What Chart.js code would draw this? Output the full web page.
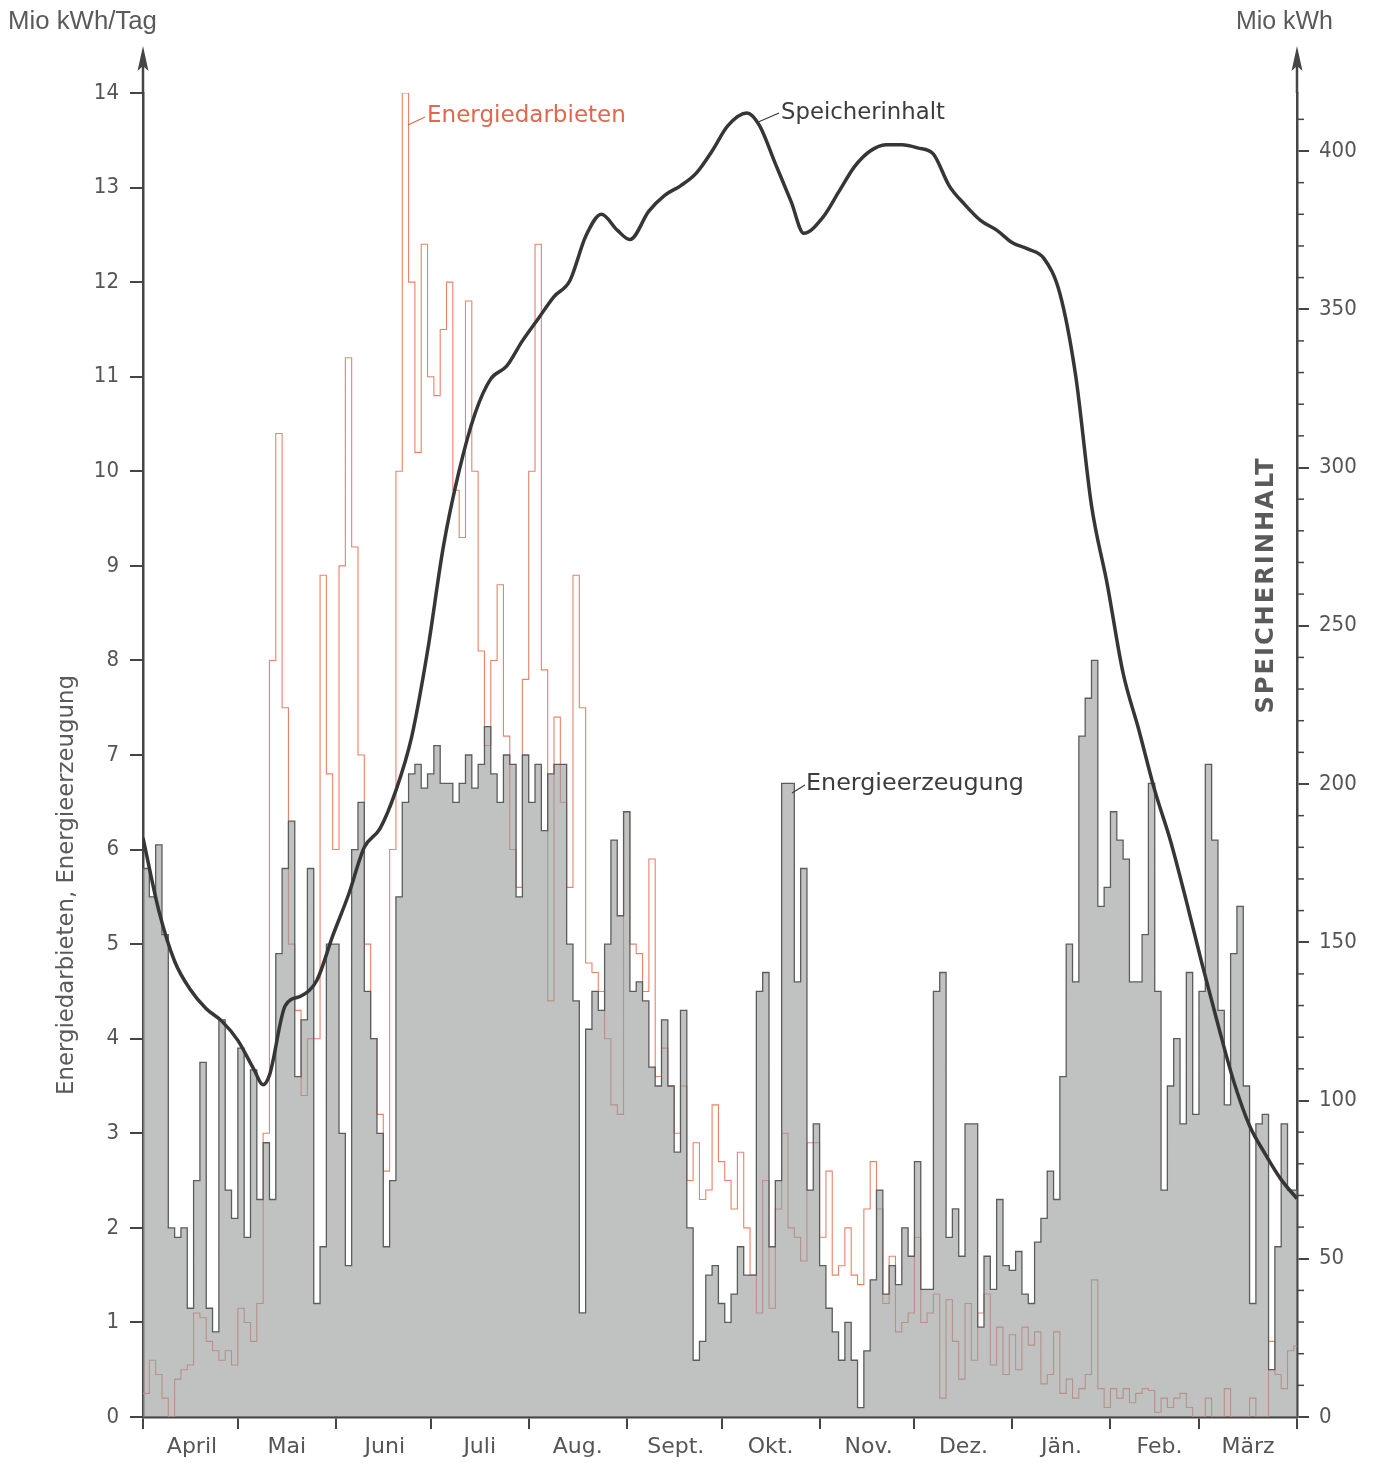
<!DOCTYPE html>
<html>
<head>
<meta charset="utf-8">
<script src="https://cdn.jsdelivr.net/npm/chart.js@4.4.1/dist/chart.umd.min.js"></script>
<style>
  html, body { margin: 0; padding: 0; background: #fff; }
  canvas { display: block; }
</style>
</head>
<body>
<canvas id="chart" width="1376" height="1463"></canvas>
<script>
// months of the hydrological year, April to March
const months = ["April", "Mai", "Juni", "Juli", "Aug.", "Sept.", "Okt.", "Nov.", "Dez.", "Jän.", "Feb.", "März"];
const monthStartDays = [0, 30, 61, 91, 122, 153, 183, 214, 244, 275, 306, 334, 365];
const leftTicks = [0, 1, 2, 3, 4, 5, 6, 7, 8, 9, 10, 11, 12, 13, 14];
const rightTicks = [0, 50, 100, 150, 200, 250, 300, 350, 400];

// Mio kWh/Tag, one value per 2 days
const binDays = 2;
const erzeugung = [
  5.8, 5.5, 6.05, 5.1, 2.0, 1.9, 2.0, 1.15, 2.5, 3.75, 1.15, 0.9, 4.2, 2.4, 2.1,
  3.9, 1.9, 3.67, 2.3, 2.9, 2.3, 4.9, 5.8, 6.3, 3.6, 4.2, 5.8, 1.2, 1.8, 5.0,
  5.0, 3.0, 1.6, 6.0, 6.5, 4.5, 4.0, 3.0, 1.8, 2.5, 5.5, 6.5, 6.8, 6.9, 6.65,
  6.8, 7.1, 6.7, 6.7, 6.5, 6.7, 7.0, 6.65, 6.9, 7.3, 6.8, 6.5, 7.0, 6.9, 5.5,
  7.0, 6.5, 6.9, 6.2, 6.8, 6.9, 6.9, 5.0, 4.4, 1.1, 4.1, 4.5, 4.3, 5.0, 6.1, 5.3,
  6.4, 4.5, 4.6, 4.4, 3.7, 3.5, 4.2, 3.5, 2.8, 4.3, 2.0, 0.6, 0.8, 1.5, 1.6,
  1.2, 1.0, 1.3, 1.8, 1.5, 1.5, 4.5, 4.7, 1.8, 2.5, 6.7, 6.7, 4.6, 5.8, 2.4,
  3.1, 1.6, 1.15, 0.9, 0.6, 1.0, 0.6, 0.1, 0.7, 1.45, 2.4, 1.3, 1.6, 1.4, 2.0,
  1.7, 2.7, 1.35, 1.35, 4.5, 4.7, 1.9, 2.2, 1.7, 3.1, 3.1, 0.95, 1.7, 1.35, 2.3, 1.6,
  1.55, 1.75, 1.3, 1.2, 1.85, 2.1, 2.6, 2.3, 3.6, 5.0, 4.6, 7.2, 7.6, 8.0, 5.4,
  5.6, 6.4, 6.1, 5.9, 4.6, 4.6, 5.1, 6.7, 4.5, 2.4, 3.5, 4.0, 3.1, 4.7, 3.2,
  4.5, 6.9, 6.1, 4.3, 3.3, 4.9, 5.4, 3.5, 1.2, 3.1, 3.2, 0.5, 1.8, 3.1, 2.4, 2.4
];
const darbieten = [
  0.25, 0.6, 0.45, 0.2, 0.0, 0.4, 0.5, 0.55, 1.1, 1.05, 0.8, 0.7, 0.6, 0.7, 0.55,
  1.15, 1.0, 0.8, 1.2, 3.0, 8.0, 10.4, 7.5, 5.0, 4.3, 3.4, 4.0, 4.0, 8.9, 6.8,
  6.0, 9.0, 11.2, 9.2, 7.0, 5.0, 4.0, 3.2, 2.6, 6.0, 10.0, 14.0, 12.0, 10.2, 12.4,
  11.0, 10.8, 11.5, 12.0, 9.8, 9.3, 11.8, 10.0, 8.1, 7.1, 8.0, 8.8, 7.2, 6.0, 5.6,
  7.8, 10.0, 12.4, 7.9, 4.4, 7.4, 6.5, 5.6, 8.9, 7.5, 4.8, 4.7, 4.5, 4.0, 3.3, 3.2,
  6.4, 5.0, 4.9, 4.5, 5.9, 3.6, 3.9, 3.5, 3.0, 3.5, 2.5, 2.9, 2.3, 2.4, 3.3,
  2.7, 2.5, 2.2, 2.8, 2.0, 1.5, 1.1, 2.5, 1.15, 2.2, 3.0, 2.0, 1.9, 1.65, 2.9,
  2.9, 1.9, 2.6, 1.5, 1.6, 2.0, 1.5, 1.4, 2.2, 2.7, 2.2, 1.2, 1.7, 0.9, 1.0,
  1.1, 1.9, 1.0, 1.1, 1.3, 0.2, 1.24, 0.8, 0.4, 1.2, 0.6, 1.1, 1.3, 0.55, 0.95, 0.45,
  0.87, 0.5, 0.95, 0.76, 0.9, 0.35, 0.45, 0.9, 0.25, 0.4, 0.2, 0.3, 0.45, 1.45, 0.3,
  0.1, 0.3, 0.2, 0.3, 0.15, 0.25, 0.3, 0.28, 0.05, 0.2, 0.1, 0.2, 0.25, 0.1, 0.0,
  0.0, 0.2, 0.0, 0.0, 0.3, 0.0, 0.0, 0.0, 0.2, 0.0, 0.0, 0.8, 0.45, 0.3, 0.7, 0.75
];

// Mio kWh, storage content by day of year
const speicherDays = [0, 5, 10, 15, 20, 25, 30, 35, 38, 40, 45, 50, 55, 60, 65, 70, 75, 80, 85, 90,
  95, 100, 105, 110, 115, 120, 125, 130, 135, 140, 145, 150, 154, 160, 165, 170, 175, 180, 185,
  191, 195, 200, 205, 209, 215, 220, 225, 230, 235, 240, 245, 250, 255, 260, 265, 270, 275, 280,
  285, 290, 295, 300, 305, 310, 315, 320, 325, 330, 335, 340, 345, 350, 355, 360, 365];
const speicherValues = [183, 160, 144, 135, 129, 125, 119, 110, 105, 108, 130, 133, 138, 152, 165, 180, 186, 198, 215, 242,
  275, 299, 317, 328, 332, 340, 347, 354, 359, 373, 380, 375, 372, 381, 386, 389, 393, 400, 408,
  412, 408, 396, 384, 374, 379, 387, 395, 400, 402, 402, 401, 399, 389, 383, 378, 375, 371, 369,
  366, 355, 329, 288, 263, 235, 217, 198, 182, 163, 143, 124, 106, 92, 83, 75, 69];

const ink = '#454545';
const textGrey = '#555555';
const numFont = { family: "'DejaVu Sans Condensed', 'DejaVu Sans', sans-serif", size: 22 };
const labelFont = { family: "'DejaVu Sans', sans-serif", size: 22 };

// value of a bin holds from its start day until the next bin
const toSteps = vals => vals.map((v, i) => ({ x: i * binDays, y: v }))
  .concat([{ x: 365, y: vals[vals.length - 1] }]);
const speicher = speicherDays.map((d, i) => ({ x: d, y: speicherValues[i] }));

function fitFont(ctx, text, weight, family, width) {
  ctx.font = weight + ' 100px ' + family;
  const w = ctx.measureText(text).width;
  return weight + ' ' + (100 * width / w).toFixed(2) + 'px ' + family;
}

const decor = {
  id: 'decor',
  afterDraw(chart) {
    const { ctx, chartArea: a, scales } = chart;
    ctx.save();
    // axis arrows
    ctx.strokeStyle = ink;
    ctx.fillStyle = ink;
    ctx.lineWidth = 2.5;
    [a.left, a.right].forEach(x => {
      ctx.beginPath(); ctx.moveTo(x, a.top); ctx.lineTo(x, 62); ctx.stroke();
      ctx.beginPath(); ctx.moveTo(x, 46); ctx.lineTo(x - 5.5, 71); ctx.lineTo(x, 66); ctx.lineTo(x + 5.5, 71);
      ctx.closePath(); ctx.fill();
    });
    // minor ticks on the storage axis
    const y2 = scales.y2;
    ctx.lineWidth = 1.5;
    for (let v = 10; v < y2.max; v += 10) {
      if (v % 50 === 0) continue;
      const py = y2.getPixelForValue(v);
      ctx.beginPath(); ctx.moveTo(a.right, py); ctx.lineTo(a.right + 7, py); ctx.stroke();
    }

    ctx.textBaseline = 'middle';
    ctx.textAlign = 'left';
    const sans = "'Liberation Sans', Arial, sans-serif";
    const dv = "'DejaVu Sans', sans-serif";
    // unit headers
    ctx.fillStyle = '#5a5a5a';
    ctx.font = fitFont(ctx, 'Mio kWh/Tag', '', sans, 149);
    ctx.fillText('Mio kWh/Tag', 8, 22);
    ctx.font = fitFont(ctx, 'Mio kWh', '', sans, 97);
    ctx.fillText('Mio kWh', 1236, 22);

    // rotated axis titles
    ctx.save();
    ctx.translate(67, 885);
    ctx.rotate(-Math.PI / 2);
    ctx.textAlign = 'center';
    ctx.font = fitFont(ctx, 'Energiedarbieten, Energieerzeugung', '', dv, 420);
    ctx.fillText('Energiedarbieten, Energieerzeugung', 0, 0);
    ctx.restore();

    ctx.save();
    ctx.translate(1267, 585);
    ctx.rotate(-Math.PI / 2);
    ctx.textAlign = 'center';
    ctx.letterSpacing = '2px';
    ctx.font = fitFont(ctx, 'SPEICHERINHALT', '600', dv, 236);
    ctx.fillText('SPEICHERINHALT', 0, 0);
    ctx.restore();

    // series labels with leader strokes
    const notes = [
      { text: 'Energiedarbieten', color: '#e0684e', x: 427, y: 116, w: 199, from: [408, 125], to: [425, 117] },
      { text: 'Speicherinhalt', color: '#3c3c3c', x: 781, y: 113, w: 164, from: [756, 123], to: [779, 113] },
      { text: 'Energieerzeugung', color: '#3c3c3c', x: 806, y: 784, w: 218, from: [792, 793], to: [805, 785] }
    ];
    notes.forEach(n => {
      ctx.fillStyle = n.color;
      ctx.strokeStyle = n.color;
      ctx.lineWidth = 1.3;
      ctx.beginPath(); ctx.moveTo(n.from[0], n.from[1]); ctx.lineTo(n.to[0], n.to[1]); ctx.stroke();
      ctx.font = fitFont(ctx, n.text, '', dv, n.w);
      ctx.fillText(n.text, n.x, n.y);
    });
    ctx.restore();
  }
};

Chart.defaults.font.family = "'DejaVu Sans', sans-serif";

new Chart(document.getElementById('chart'), {
  type: 'line',
  data: {
    datasets: [
      {
        label: 'Speicherinhalt',
        data: speicher,
        yAxisID: 'y2',
        borderColor: '#363636',
        borderWidth: 3.5,
        pointRadius: 0,
        cubicInterpolationMode: 'monotone',
        fill: false,
        order: 0
      },
      {
        label: 'Energieerzeugung',
        data: toSteps(erzeugung),
        yAxisID: 'y',
        stepped: 'before',
        borderColor: '#5c5c5c',
        borderWidth: 1.3,
        backgroundColor: 'rgba(150,153,153,0.6)',
        fill: 'origin',
        pointRadius: 0,
        order: 1
      },
      {
        label: 'Energiedarbieten',
        data: toSteps(darbieten),
        yAxisID: 'y',
        stepped: 'before',
        borderColor: '#e9826a',
        borderWidth: 1.1,
        fill: false,
        pointRadius: 0,
        order: 2
      }
    ]
  },
  options: {
    responsive: false,
    animation: false,
    layout: { padding: { top: 93, left: 0, right: 0, bottom: 0 } },
    plugins: { legend: { display: false }, tooltip: { enabled: false } },
    scales: {
      x: {
        type: 'linear',
        min: 0,
        max: 365,
        afterBuildTicks: s => { s.ticks = monthStartDays.map(v => ({ value: v })); },
        afterFit: s => { s.height = 46; },
        ticks: {
          autoSkip: false,
          maxRotation: 0,
          labelOffset: 49,
          padding: 5,
          color: textGrey,
          font: labelFont,
          callback: (v, i) => months[i] || ''
        },
        grid: { drawOnChartArea: false, tickLength: 12, color: ink, lineWidth: 2 },
        border: { color: ink, width: 2.5 }
      },
      y: {
        position: 'left',
        min: 0,
        max: 14,
        afterBuildTicks: s => { s.ticks = leftTicks.map(v => ({ value: v })); },
        afterFit: s => { s.width = 143; },
        ticks: { padding: 11, color: textGrey, font: numFont },
        grid: { drawOnChartArea: false, tickLength: 13, color: ink, lineWidth: 2 },
        border: { color: ink, width: 2.5 }
      },
      y2: {
        position: 'right',
        min: 0,
        max: 400 * 1324 / 1266,
        afterBuildTicks: s => { s.ticks = rightTicks.map(v => ({ value: v })); },
        afterFit: s => { s.width = 79; },
        ticks: { padding: 10, color: textGrey, font: numFont },
        grid: { drawOnChartArea: false, tickLength: 12, color: ink, lineWidth: 2 },
        border: { color: ink, width: 2.5 }
      }
    }
  },
  plugins: [decor]
});
</script>
</body>
</html>
